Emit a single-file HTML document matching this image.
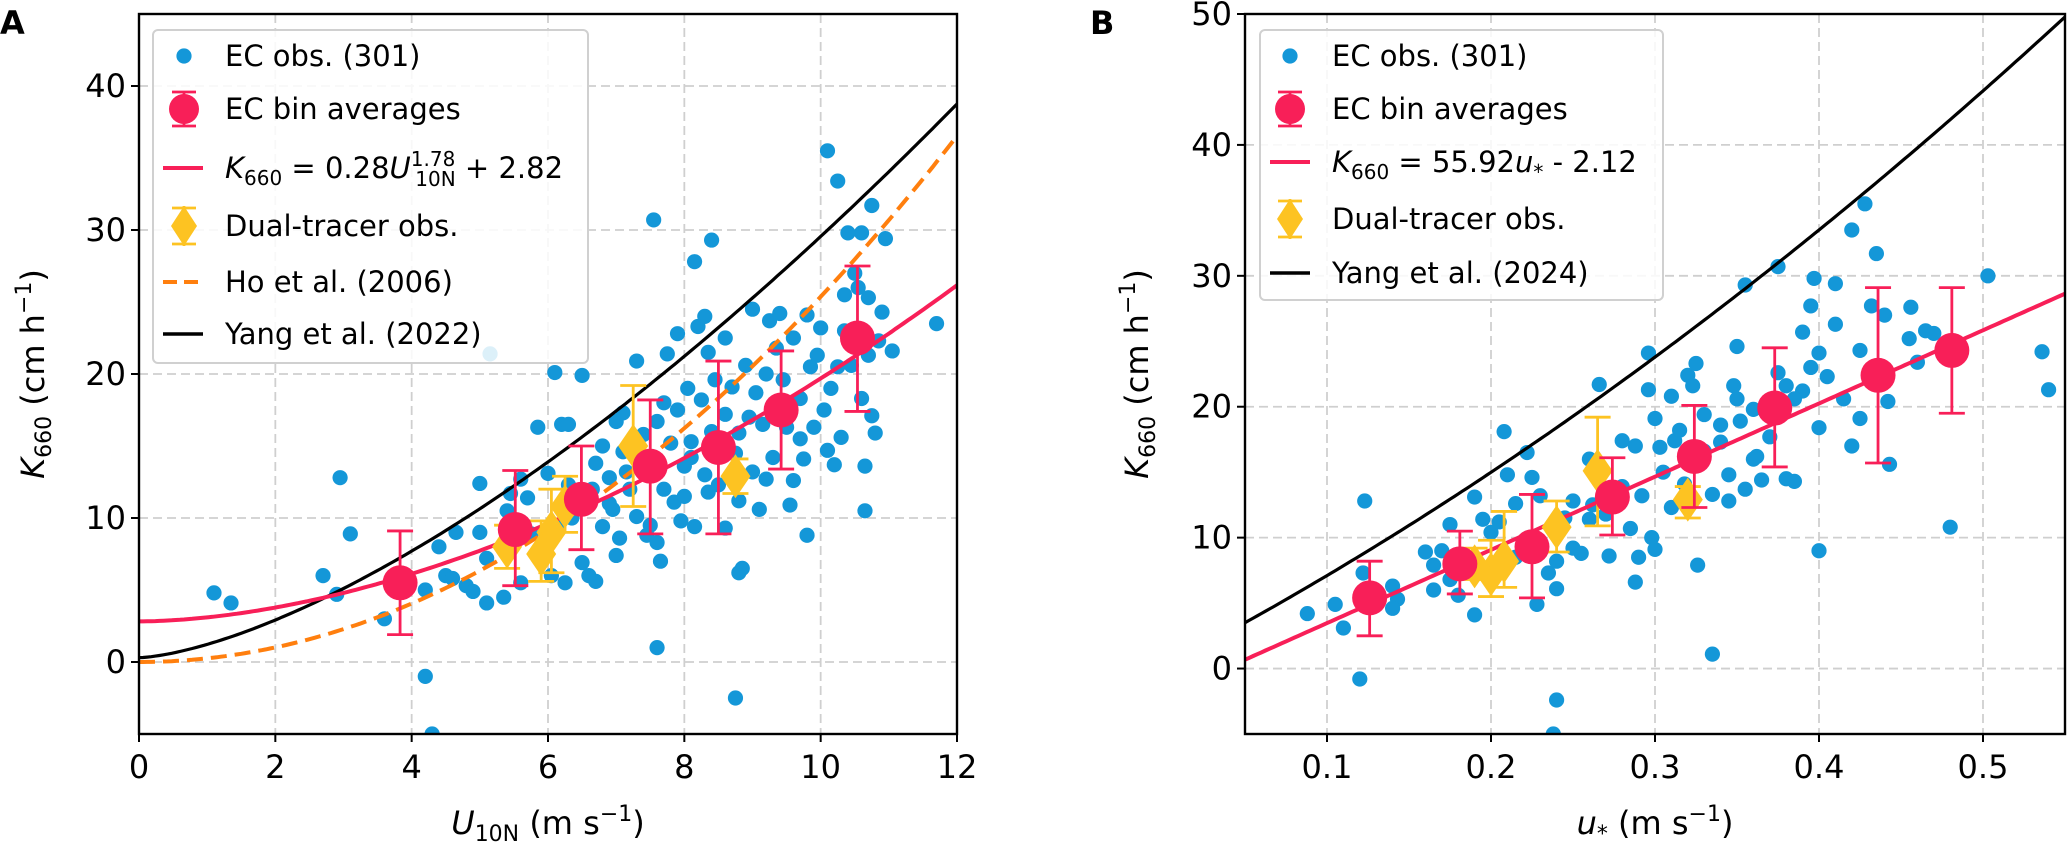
<!DOCTYPE html>
<html><head><meta charset="utf-8"><style>
html,body{margin:0;padding:0;background:#fff;}
svg{display:block;font-family:"DejaVu Sans","Liberation Sans",sans-serif;}
</style></head><body>
<svg id="svg" width="2067" height="849" viewBox="0 0 2067 849" xmlns="http://www.w3.org/2000/svg"></svg>
<script>
// ---------- Panel A data ----------
const aScatterU=[1.1,1.35,2.95,3.1,2.7,2.9,3.6,4.2,4.3,5.15,6.1,6.5,7.55,7.6,8.75,8.8,8.85,10.1,10.25,11.7,10.65,9.8,8.15,8.4,8.3,8.6,10.4,10.6,10.75,10.95,10.35,10.5,11.05,10.9,
4.2,4.4,4.5,4.6,4.65,4.8,4.9,5.0,5.1,5.0,5.1,5.35,5.4,5.45,5.6,5.6,5.7,5.75,5.85,5.9,6.0,6.05,6.15,6.2,6.25,6.3,6.3,6.35,6.5,6.6,6.65,6.7,6.7,6.8,6.8,6.9,6.95,7.0,7.0,7.05,7.1,7.15,7.2,7.3,7.3,7.4,7.45,7.5,7.6,7.6,7.65,7.7,7.7,7.75,7.8,7.85,7.9,7.9,7.95,8.0,8.0,8.05,8.1,8.15,8.2,8.25,8.3,8.35,8.35,8.4,8.45,8.5,8.6,8.6,8.7,8.75,8.8,8.9,8.95,9.0,9.0,9.05,9.1,9.15,9.2,9.25,9.3,9.35,9.4,9.45,9.5,9.55,9.6,9.6,9.7,9.75,9.8,9.85,9.9,9.95,10.0,10.05,10.1,10.15,10.2,10.25,10.3,10.35,10.45,10.55,10.6,10.65,10.7,10.75,10.8,10.85,10.7,9.2,8.1,7.4,6.9,7.1,8.8,9.7];
const aScatterK=[4.8,4.1,12.8,8.9,6,4.7,3,-1,-5,21.4,20.1,19.9,30.7,1,-2.5,6.2,6.5,35.5,33.4,23.5,10.5,8.8,27.8,29.3,24,22.5,29.8,29.8,31.7,29.4,25.5,27,21.6,24.3,
5,8,6,5.8,9,5.3,4.9,9,4.1,12.4,7.2,4.5,10.5,11.7,5.5,12.7,11.4,8.9,16.3,7,13.1,6,9.5,16.5,5.5,16.5,12.3,10,6.9,6,12,5.6,13.8,15,9.4,12.8,10.6,16.7,7.4,8.6,17.3,13.2,12,20.9,10.1,15.8,8.8,9.5,16.7,8.3,7,18,12,21.4,15.2,11.1,17.5,22.8,9.8,13.6,11.5,19,15.3,9.4,23.3,18.2,13,21.5,11.8,16,19.6,12.3,17.2,9.3,19.1,14.5,15.9,20.6,17,24.5,13.2,18.7,10.6,16.5,20,23.7,14.2,21.8,24.2,19.6,16.3,10.9,22.5,12.6,18.3,14.1,24.1,20.5,16.3,21.3,23.2,17.5,14.7,19,13.7,20.5,15.6,23,20.6,26,18.3,13.6,21.3,17.1,15.9,22.3,25.3,12.7,14.2,13.3,11,14.6,11.2,15.5];
const aBinU=[3.83,5.52,6.49,7.5,8.5,9.42,10.54];
const aBinK=[5.5,9.2,11.3,13.6,14.9,17.5,22.5];
const aBinLo=[1.9,5.3,7.8,8.9,8.9,13.4,17.4];
const aBinHi=[9.1,13.3,15.0,18.2,20.9,21.6,27.5];
const aDualU=[7.25,8.75,6.05,5.9,5.4,6.25];
const aDualK=[15.0,12.9,9.0,7.5,8.0,10.8];
const aDualLo=[10.8,11.7,6.2,5.6,6.5,9.0];
const aDualHi=[19.2,14.1,12.0,9.8,9.5,12.9];
const aXTicks=[0,2,4,6,8,10,12];
const aYTicks=[0,10,20,30,40];
// ---------- Panel B data ----------
const bScatterU=[0.088,0.105,0.11,0.12,0.123,0.122,0.13,0.14,0.143,0.14,0.16,0.165,0.17,0.175,0.18,0.19,0.19,0.195,0.2,0.205,0.208,0.21,0.215,0.222,0.225,0.228,0.23,0.235,0.238,0.24,0.24,0.24,0.245,0.25,0.255,0.26,0.262,0.266,0.27,0.272,0.28,0.285,0.288,0.288,0.29,0.292,0.296,0.296,0.298,0.3,0.3,0.303,0.305,0.31,0.312,0.315,0.318,0.32,0.323,0.325,0.326,0.33,0.335,0.335,0.34,0.345,0.348,0.35,0.352,0.355,0.355,0.36,0.362,0.365,0.37,0.375,0.375,0.38,0.38,0.385,0.39,0.39,0.395,0.397,0.4,0.4,0.4,0.405,0.41,0.41,0.415,0.42,0.42,0.425,0.425,0.428,0.432,0.435,0.44,0.442,0.443,0.455,0.456,0.46,0.465,0.47,0.48,0.503,0.536,0.54,0.33,0.36,0.345,0.31,0.28,0.26,0.25,0.215,0.2,0.175,0.165,0.37,0.385,0.395,0.35,0.34];
const bScatterK=[4.2,4.9,3.1,-0.8,12.8,7.3,5.7,6.3,5.3,4.6,8.9,6,9,11,5.6,4.1,13.1,11.4,10.4,11.2,18.1,14.8,12.6,16.5,14.6,4.9,13.2,7.3,-5,-2.4,8.2,6.1,11.5,12.8,8.8,16,12.5,21.7,11.8,8.6,17.4,10.7,17,6.6,8.5,13.2,24.1,21.3,10,19.1,9.1,16.9,15,20.8,17.4,18.2,14.1,22.4,21.6,23.3,7.9,19.4,1.1,13.3,17.3,14.8,21.6,24.6,18.9,29.3,13.7,19.8,16.2,14.4,17.7,30.7,22.6,21.6,14.5,14.3,25.7,21.2,27.7,29.8,24.1,18.4,9,22.3,29.4,26.3,20.6,33.5,17,24.3,19.1,35.5,27.7,31.7,27,20.4,15.6,25.2,27.6,23.4,25.8,25.6,10.8,30,24.2,21.3,16.6,16,12.8,12.3,13.9,11.4,9.2,8.5,7.2,6.8,7.9,19.3,20.6,23,20.6,18.6];
const bBinU=[0.126,0.181,0.225,0.274,0.324,0.373,0.436,0.481];
const bBinK=[5.4,8.0,9.3,13.1,16.2,19.9,22.4,24.3];
const bBinLo=[2.5,5.7,5.4,10.2,12.3,15.4,15.7,19.5];
const bBinHi=[8.2,10.5,13.3,16.1,20.1,24.5,29.1,29.1];
const bDualU=[0.265,0.32,0.208,0.2,0.19,0.24];
const bDualK=[15.1,12.9,8.2,7.2,7.8,10.8];
const bDualLo=[10.9,11.5,6.2,5.5,6.8,8.9];
const bDualHi=[19.2,13.9,12.0,9.8,9.2,12.8];
const bXTicks=[0.1,0.2,0.3,0.4,0.5];
const bYTicks=[0,10,20,30,40,50];

const NS="http://www.w3.org/2000/svg";
const svg=document.getElementById('svg');
function mk(tag,attrs,parent){const e=document.createElementNS(NS,tag);for(const k in attrs)e.setAttribute(k,attrs[k]);(parent||svg).appendChild(e);return e;}
const RED="#f81f58",BLUE="#1497d8",GOLD="#fdc322",ORANGE="#ff7f0e";

function panel(cfg){
  const g=mk('g',{});
  
  
  const X=v=>cfg.x0+(v-cfg.xmin)/(cfg.xmax-cfg.xmin)*(cfg.x1-cfg.x0);
  const Y=v=>cfg.y1-(v-cfg.ymin)/(cfg.ymax-cfg.ymin)*(cfg.y1-cfg.y0);
  cfg.xt.forEach(t=>{const l=mk('line',{x1:X(t),x2:X(t),y1:cfg.y0,y2:cfg.y1,stroke:'#cfcfcf','stroke-width':1.8,'stroke-dasharray':'9,5'},g);
    });
  cfg.yt.forEach(t=>{const l=mk('line',{x1:cfg.x0,x2:cfg.x1,y1:Y(t),y2:Y(t),stroke:'#cfcfcf','stroke-width':1.8,'stroke-dasharray':'9,5'},g);
    });
  const clipId='clip'+cfg.name;
  const cp=mk('clipPath',{id:clipId},g);mk('rect',{x:cfg.x0,y:cfg.y0,width:cfg.x1-cfg.x0,height:cfg.y1-cfg.y0},cp);
  const pg=mk('g',{'clip-path':'url(#'+clipId+')'},g);
  cfg.su.forEach((u,i)=>{const c=mk('ellipse',{cx:X(u),cy:Y(cfg.sk[i]),rx:7.6,ry:7.6,fill:BLUE},pg);
    });
  cfg.curves.forEach(cv=>{let d='';for(let i=0;i<=200;i++){const v=cfg.xmin+(cfg.xmax-cfg.xmin)*i/200;d+=(i?'L':'M')+X(v).toFixed(1)+','+Y(cv.f(v)).toFixed(1);}
    const p=mk('path',{d:d,fill:'none',stroke:cv.color,'stroke-width':cv.w||4},pg);if(cv.dash)p.setAttribute('stroke-dasharray',cv.dash);
    });
  cfg.du.forEach((u,i)=>{const x=X(u);const gg=mk('g',{},pg);
    
    mk('line',{x1:x,x2:x,y1:Y(cfg.dlo[i]),y2:Y(cfg.dhi[i]),stroke:GOLD,'stroke-width':2.8},gg);
    [cfg.dlo[i],cfg.dhi[i]].forEach(v=>mk('line',{x1:x-13,x2:x+13,y1:Y(v),y2:Y(v),stroke:GOLD,'stroke-width':2.8},gg));
    const y=Y(cfg.dk[i]);mk('polygon',{points:`${x},${y-22} ${x+15},${y} ${x},${y+22} ${x-15},${y}`,fill:GOLD},gg);});
  cfg.bu.forEach((u,i)=>{const x=X(u);const gg=mk('g',{},pg);
    
    mk('line',{x1:x,x2:x,y1:Y(cfg.blo[i]),y2:Y(cfg.bhi[i]),stroke:RED,'stroke-width':2.8},gg);
    [cfg.blo[i],cfg.bhi[i]].forEach(v=>mk('line',{x1:x-13,x2:x+13,y1:Y(v),y2:Y(v),stroke:RED,'stroke-width':2.8},gg));
    mk('ellipse',{cx:x,cy:Y(cfg.bk[i]),rx:17.5,ry:17.5,fill:RED},gg);});
  const fr=mk('rect',{x:cfg.x0,y:cfg.y0,width:cfg.x1-cfg.x0,height:cfg.y1-cfg.y0,fill:'none',stroke:'#000','stroke-width':2.4},g);
  
  cfg.xt.forEach(t=>{mk('line',{x1:X(t),x2:X(t),y1:cfg.y1,y2:cfg.y1+8,stroke:'#000','stroke-width':2},g);
    const tx=mk('text',{x:X(t),y:cfg.y1+44,'text-anchor':'middle','font-size':32},g);tx.textContent=cfg.xfmt(t);
    });
  cfg.yt.forEach(t=>{mk('line',{x1:cfg.x0-8,x2:cfg.x0,y1:Y(t),y2:Y(t),stroke:'#000','stroke-width':2},g);
    const tx=mk('text',{x:cfg.x0-13,y:Y(t)+11,'text-anchor':'end','font-size':32},g);tx.textContent=t;
    });
  return g;
}

panel({name:'panel-a',x0:139,x1:957,y0:14,y1:734,xmin:0,xmax:12,ymin:-5,ymax:45,xt:aXTicks,yt:aYTicks,xfmt:t=>String(t),
  su:aScatterU,sk:aScatterK,bu:aBinU,bk:aBinK,blo:aBinLo,bhi:aBinHi,du:aDualU,dk:aDualK,dlo:aDualLo,dhi:aDualHi,
  curves:[
    {name:'ho-2006-curve',color:ORANGE,dash:'16,8',f:u=>0.266*u*u*0.9535},
    {name:'yang-2022-curve',color:'#000',w:3.2,f:u=>0.3+0.925*Math.pow(u,1.5)},
    {name:'fit-line-a',color:RED,f:u=>0.28*Math.pow(u,1.78)+2.82}]});
panel({name:'panel-b',x0:1245,x1:2065,y0:14,y1:734,xmin:0.05,xmax:0.55,ymin:-5,ymax:50,xt:bXTicks,yt:bYTicks,xfmt:t=>t.toFixed(1),
  su:bScatterU,sk:bScatterK,bu:bBinU,bk:bBinK,blo:bBinLo,bhi:bBinHi,du:bDualU,dk:bDualK,dlo:bDualLo,dhi:bDualHi,
  curves:[
    {name:'yang-2024-curve',color:'#000',w:3.2,f:u=>0.126+65.2*u+45.6*u*u},
    {name:'fit-line-b',color:RED,f:u=>55.92*u-2.12}]});
</script>
<svg width="2067" height="849" style="position:absolute;left:0;top:0" xmlns="http://www.w3.org/2000/svg" font-family="DejaVu Sans, Liberation Sans, sans-serif">
  <text x="0" y="34" font-size="32" font-weight="bold">A</text>
  <text x="1090" y="34" font-size="32" font-weight="bold">B</text>
  <text transform="translate(44,374) rotate(-90)" text-anchor="middle" font-size="32"><tspan font-style="italic">K</tspan><tspan font-size="22" dy="7">660</tspan><tspan dy="-7"> (cm h</tspan><tspan font-size="22" dy="-13">−1</tspan><tspan dy="13">)</tspan></text>
  <text transform="translate(1148,374) rotate(-90)" text-anchor="middle" font-size="32"><tspan font-style="italic">K</tspan><tspan font-size="22" dy="7">660</tspan><tspan dy="-7"> (cm h</tspan><tspan font-size="22" dy="-13">−1</tspan><tspan dy="13">)</tspan></text>
  <text x="548" y="834" text-anchor="middle" font-size="32"><tspan font-style="italic">U</tspan><tspan font-size="22" dy="7">10N</tspan><tspan dy="-7"> (m s</tspan><tspan font-size="22" dy="-13">−1</tspan><tspan dy="13">)</tspan></text>
  <text x="1655" y="834" text-anchor="middle" font-size="32"><tspan font-style="italic">u</tspan><tspan font-size="22" dy="7">*</tspan><tspan dy="-7"> (m s</tspan><tspan font-size="22" dy="-13">−1</tspan><tspan dy="13">)</tspan></text>

  <g font-size="29">
    <rect x="153" y="30" width="435" height="333" rx="5" fill="#fff" fill-opacity="0.85" stroke="#d0d0d0" stroke-width="2"/>
    <circle cx="184" cy="56" r="7.6" fill="#1497d8"/><text x="225" y="66">EC obs. (301)</text>
    <line x1="184" y1="92" x2="184" y2="126" stroke="#f81f58" stroke-width="2.8"/><line x1="172" y1="92" x2="196" y2="92" stroke="#f81f58" stroke-width="2.8"/><line x1="172" y1="126" x2="196" y2="126" stroke="#f81f58" stroke-width="2.8"/><circle cx="184" cy="109" r="15" fill="#f81f58"/>
    <text x="225" y="119">EC bin averages</text>
    <line x1="163" y1="168" x2="203" y2="168" stroke="#f81f58" stroke-width="4"/>
    <text x="225" y="178"><tspan font-style="italic">K</tspan><tspan font-size="20" dy="7">660</tspan><tspan dy="-7"> = 0.28</tspan><tspan font-style="italic">U</tspan><tspan font-size="20" dy="-12">1.78</tspan><tspan font-size="20" dx="-40" dy="20">10N</tspan><tspan dy="-8"> + 2.82</tspan></text>
    <line x1="184" y1="206" x2="184" y2="246" stroke="#fdc322" stroke-width="2.8"/><line x1="172" y1="208" x2="196" y2="208" stroke="#fdc322" stroke-width="2.8"/><line x1="172" y1="244" x2="196" y2="244" stroke="#fdc322" stroke-width="2.8"/><polygon points="184,206 197,226 184,246 171,226" fill="#fdc322"/>
    <text x="225" y="236">Dual-tracer obs.</text>
    <line x1="163" y1="282" x2="203" y2="282" stroke="#ff7f0e" stroke-width="4" stroke-dasharray="14,7"/><text x="225" y="292">Ho et al. (2006)</text>
    <line x1="163" y1="334" x2="203" y2="334" stroke="#000" stroke-width="3.4"/><text x="225" y="344">Yang et al. (2022)</text>
  </g>
  <g font-size="29">
    <rect x="1260" y="30" width="403" height="270" rx="5" fill="#fff" fill-opacity="0.85" stroke="#d0d0d0" stroke-width="2"/>
    <circle cx="1290" cy="56" r="7.6" fill="#1497d8"/><text x="1332" y="66">EC obs. (301)</text>
    <line x1="1290" y1="92" x2="1290" y2="126" stroke="#f81f58" stroke-width="2.8"/><line x1="1278" y1="92" x2="1302" y2="92" stroke="#f81f58" stroke-width="2.8"/><line x1="1278" y1="126" x2="1302" y2="126" stroke="#f81f58" stroke-width="2.8"/><circle cx="1290" cy="109" r="15" fill="#f81f58"/>
    <text x="1332" y="119">EC bin averages</text>
    <line x1="1270" y1="162" x2="1310" y2="162" stroke="#f81f58" stroke-width="4"/>
    <text x="1332" y="172"><tspan font-style="italic">K</tspan><tspan font-size="20" dy="7">660</tspan><tspan dy="-7"> = 55.92</tspan><tspan font-style="italic">u</tspan><tspan font-size="20" dy="7">*</tspan><tspan dy="-7"> - 2.12</tspan></text>
    <line x1="1290" y1="199" x2="1290" y2="239" stroke="#fdc322" stroke-width="2.8"/><line x1="1278" y1="201" x2="1302" y2="201" stroke="#fdc322" stroke-width="2.8"/><line x1="1278" y1="237" x2="1302" y2="237" stroke="#fdc322" stroke-width="2.8"/><polygon points="1290,199 1303,219 1290,239 1277,219" fill="#fdc322"/>
    <text x="1332" y="229">Dual-tracer obs.</text>
    <line x1="1270" y1="273" x2="1310" y2="273" stroke="#000" stroke-width="3.4"/><text x="1332" y="283">Yang et al. (2024)</text>
  </g>
</svg>
</body></html>
